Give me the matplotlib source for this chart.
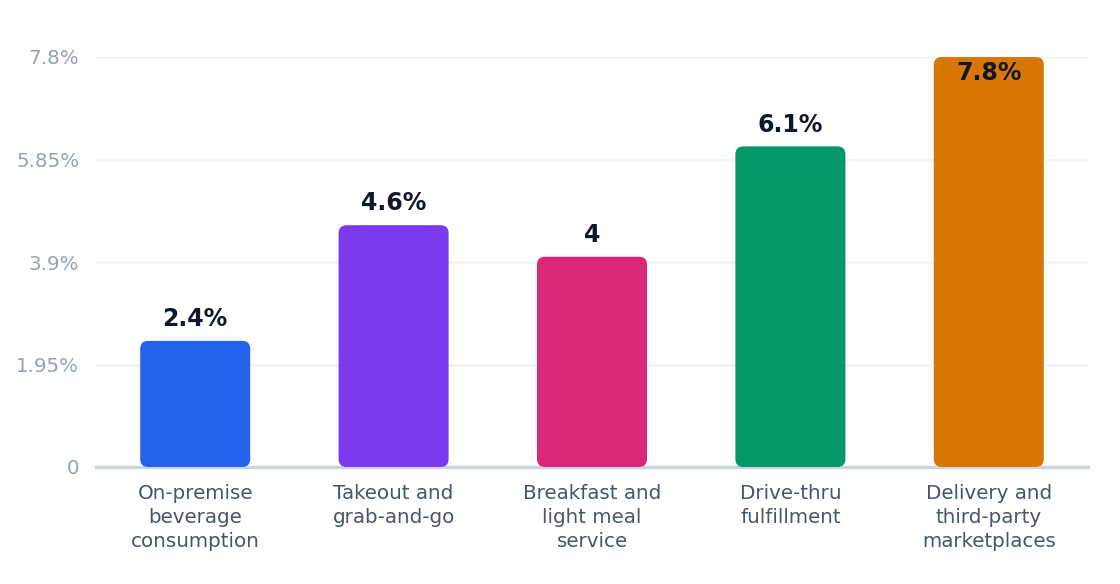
import matplotlib.pyplot as plt
from matplotlib.patches import FancyBboxPatch

categories = ["On-premise\nbeverage\nconsumption", "Takeout and\ngrab-and-go",
              "Breakfast and\nlight meal\nservice", "Drive-thru\nfulfillment",
              "Delivery and\nthird-party\nmarketplaces"]
values = [2.4, 4.6, 4.0, 6.1, 7.8]
value_labels = ["2.4%", "4.6%", "4", "6.1%", "7.8%"]
colors = ["#2563eb", "#7c3aed", "#db2777", "#059669", "#d97706"]
y_ticks = [0, 1.95, 3.9, 5.85, 7.8]
y_tick_labels = ["0", "1.95%", "3.9%", "5.85%", "7.8%"]

W, H = 1120, 584
fig = plt.figure(figsize=(W / 100, H / 100), dpi=100)
left, right, bottom, top = 96, 1088, 467, 57
ax = fig.add_axes([left / W, 1 - bottom / H, (right - left) / W, (bottom - top) / H])

n = len(values)
ax.set_xlim(-0.5, n - 0.5)
ax.set_ylim(0, 7.8)

# pixel scale for rounded corners
px_x = (right - left) / n
px_y = (bottom - top) / 7.8
bar_w = 110 / px_x
r_px = 8
for i, (v, c) in enumerate(zip(values, colors)):
    p = FancyBboxPatch((i - bar_w / 2, 0), bar_w, v,
                       boxstyle=f"round,pad=0,rounding_size={r_px / px_x}",
                       mutation_aspect=px_x / px_y,
                       facecolor=c, edgecolor="none", zorder=3, clip_on=False)
    ax.add_patch(p)

for i, (v, lab) in enumerate(zip(values, value_labels)):
    if v >= 7.8:
        ax.annotate(lab, (i, v), xytext=(0, -3), textcoords="offset points",
                    ha="center", va="top", fontsize=17, fontweight="bold",
                    color="#0f172a", zorder=4)
    else:
        ax.annotate(lab, (i, v), xytext=(0, 7), textcoords="offset points",
                    ha="center", va="bottom", fontsize=17, fontweight="bold",
                    color="#0f172a", zorder=4)

ax.set_yticks(y_ticks)
ax.set_yticklabels(y_tick_labels)
ax.set_xticks(range(n))
ax.set_xticklabels(categories, linespacing=1.33)
ax.tick_params(axis="y", length=0, pad=12, labelsize=14.3, labelcolor="#94a3b8")
ax.tick_params(axis="x", length=0, pad=12, labelsize=14.3, labelcolor="#475569")

ax.grid(axis="y", color="#f1f5f9", linewidth=2, zorder=0)
ax.set_axisbelow(True)
for s in ["top", "right", "left"]:
    ax.spines[s].set_visible(False)
ax.spines["bottom"].set_color("#cbd5e1")
ax.spines["bottom"].set_linewidth(2.4)
ax.spines["bottom"].set_zorder(2)

fig.savefig("out.png", dpi=100, facecolor="white")
